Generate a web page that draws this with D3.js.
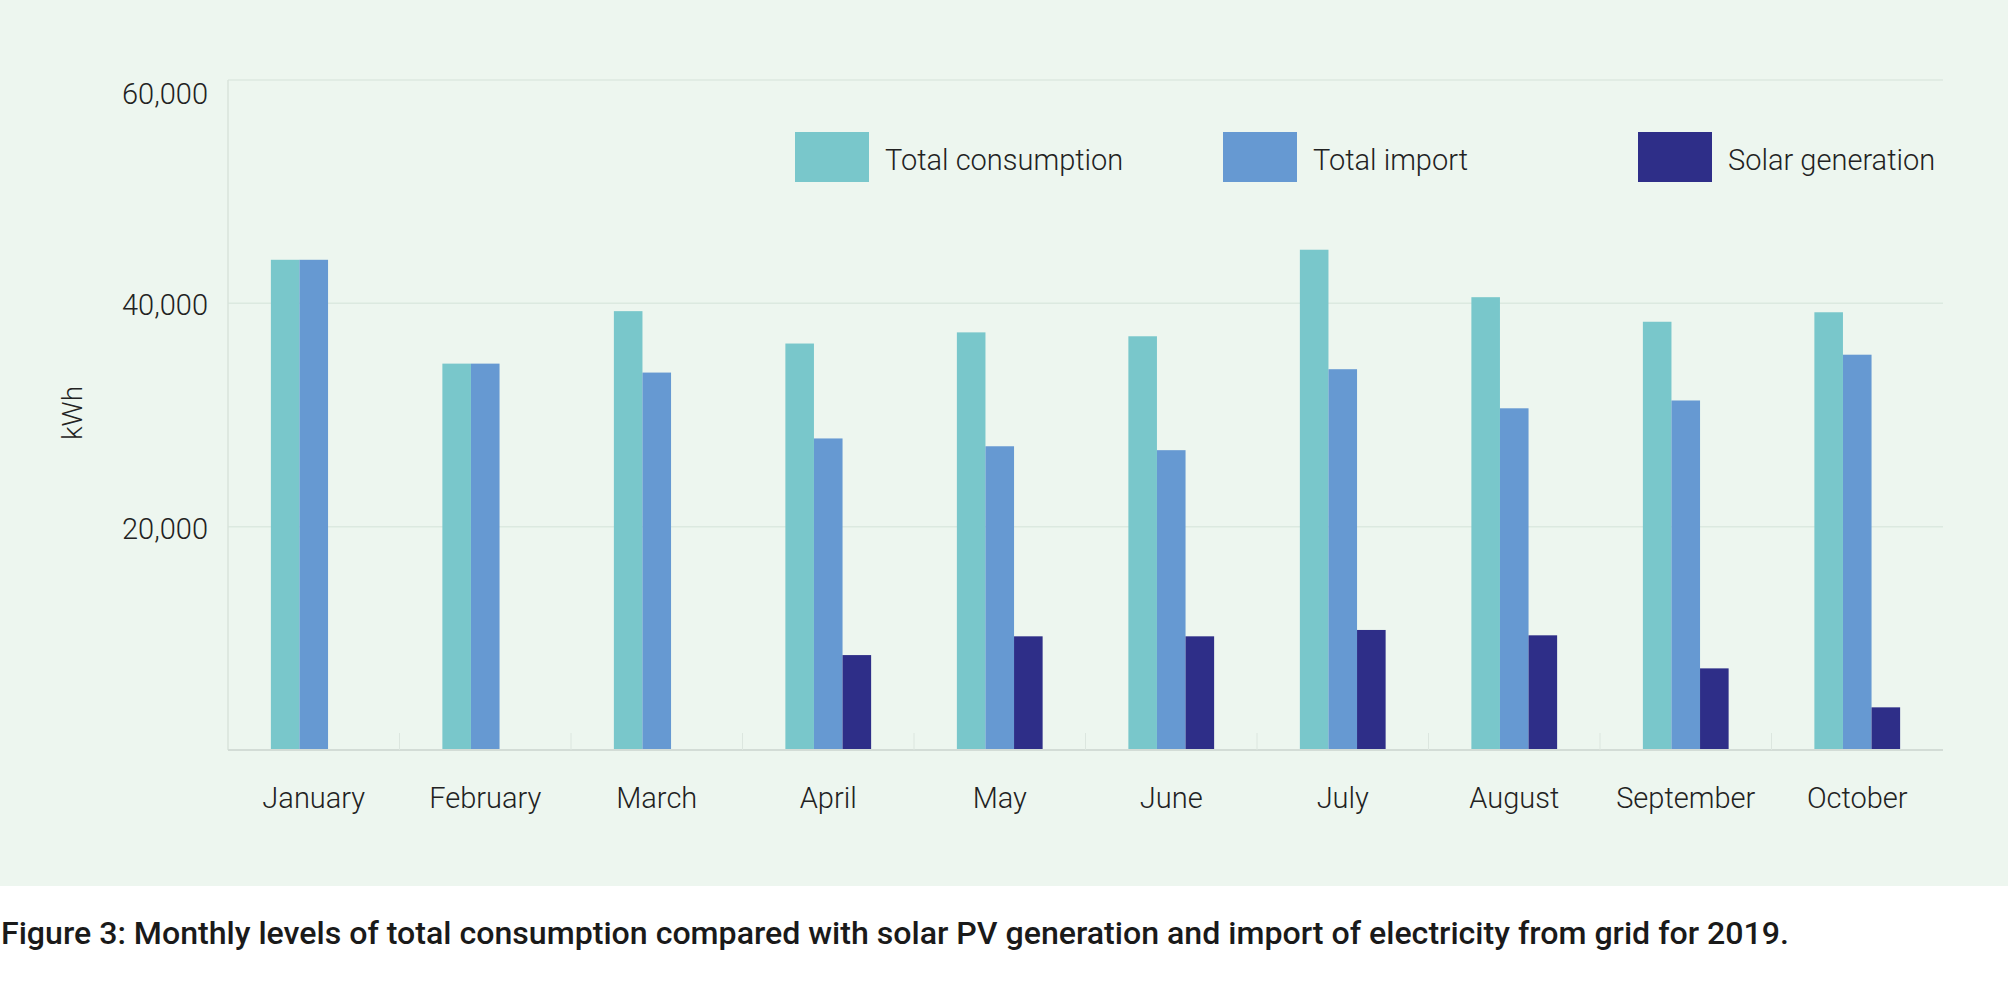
<!DOCTYPE html>
<html>
<head>
<meta charset="utf-8">
<script src="https://cdn.jsdelivr.net/npm/d3@7"></script>
<style>
  html, body { margin: 0; padding: 0; background: #ffffff; }
  svg { display: block; }
  text { font-family: Roboto, "Noto Sans", sans-serif; }
</style>
</head>
<body>
<svg id="chart" width="2008" height="982"></svg>
<script>
const months = ["January","February","March","April","May","June","July","August","September","October"];
const totalConsumption = [43900, 34600, 39300, 36400, 37400, 37050, 44800, 40550, 38350, 39200];
const totalImport      = [43900, 34600, 33800, 27900, 27200, 26850, 34100, 30600, 31300, 35400];
const solarGeneration  = [0, 0, 0, 8500, 10180, 10180, 10750, 10270, 7310, 3820];
const seriesNames = ["Total consumption", "Total import", "Solar generation"];
const seriesColors = ["#79C7CB", "#6699D2", "#2E2E88"];
const yTicks = [20000, 40000, 60000];
const caption = "Figure 3: Monthly levels of total consumption compared with solar PV generation and import of electricity from grid for 2019.";

const svg = d3.select("#chart");
const W = 2008, H = 982;
const m = {left: 228, right: 2008 - 1943, top: 80, bottom: 982 - 750};

// panel background
svg.append("rect").attr("x", 0).attr("y", 0).attr("width", W).attr("height", 886).attr("fill", "#EDF6EF");

const x = d3.scaleBand().domain(months).range([m.left, W - m.right]);
const bw = x.bandwidth() / 6;
const xs = d3.scaleBand().domain(seriesNames).range([x.bandwidth()/4, x.bandwidth()*3/4]);
const y = d3.scaleLinear().domain([0, 60000]).range([H - m.bottom, m.top]);

// gridlines
svg.append("g").selectAll("line").data(yTicks).join("line")
  .attr("x1", m.left).attr("x2", W - m.right)
  .attr("y1", d => y(d)).attr("y2", d => y(d))
  .attr("stroke", "#DCE9E0").attr("stroke-width", 1.5);

// left axis line
svg.append("line").attr("x1", m.left).attr("x2", m.left)
  .attr("y1", y(60000)).attr("y2", y(0))
  .attr("stroke", "#D8E3DB").attr("stroke-width", 1.5);

// y tick labels
svg.append("g").selectAll("text").data(yTicks).join("text")
  .attr("x", m.left - 20)
  .attr("y", d => y(d) + (d === 60000 ? 24 : 12))
  .attr("text-anchor", "end")
  .attr("font-size", 29).attr("font-weight", 300).attr("fill", "#222")
  .text(d => d3.format(",")(d));

// y axis title
svg.append("text")
  .attr("transform", `translate(82,413) rotate(-90)`)
  .attr("text-anchor", "middle")
  .attr("font-size", 28).attr("font-weight", 300).attr("fill", "#222")
  .text("kWh");

// bars
const data = months.map((mo, i) => ({month: mo, values: [totalConsumption[i], totalImport[i], solarGeneration[i]]}));
const groups = svg.append("g").selectAll("g").data(data).join("g")
  .attr("transform", d => `translate(${x(d.month)},0)`);
groups.selectAll("rect").data(d => d.values.map((v, j) => ({name: seriesNames[j], v, j})))
  .join("rect")
  .attr("x", d => xs(d.name))
  .attr("width", bw)
  .attr("y", d => y(d.v))
  .attr("height", d => y(0) - y(d.v))
  .attr("fill", d => seriesColors[d.j]);

// baseline
svg.append("line").attr("x1", m.left).attr("x2", W - m.right)
  .attr("y1", y(0)).attr("y2", y(0))
  .attr("stroke", "#D3DCD6").attr("stroke-width", 2);

// category separator ticks
const bounds = months.slice(1).map(mo => x(mo));
svg.append("g").selectAll("line").data(bounds).join("line")
  .attr("x1", d => d).attr("x2", d => d)
  .attr("y1", y(0) - 17).attr("y2", y(0))
  .attr("stroke", "#DCE6DF").attr("stroke-width", 1);

// x labels
svg.append("g").selectAll("text").data(months).join("text")
  .attr("x", d => x(d) + x.bandwidth()/2)
  .attr("y", 808)
  .attr("text-anchor", "middle")
  .attr("font-size", 29).attr("font-weight", 300).attr("fill", "#222")
  .text(d => d);

// legend
const legendX = [795, 1223, 1638];
const lg = svg.append("g").selectAll("g").data(seriesNames).join("g")
  .attr("transform", (d, i) => `translate(${legendX[i]},132)`);
lg.append("rect").attr("width", 74).attr("height", 50).attr("fill", (d, i) => seriesColors[i]);
lg.append("text").attr("x", 90).attr("y", 38)
  .attr("font-size", 29).attr("font-weight", 300).attr("fill", "#222")
  .text(d => d);

// caption
svg.append("text").attr("x", 1).attr("y", 944)
  .attr("font-size", 31).attr("font-weight", 500).attr("fill", "#1a1a1a")
  .attr("textLength", 1788).attr("lengthAdjust", "spacingAndGlyphs")
  .text(caption);
</script>
</body>
</html>
